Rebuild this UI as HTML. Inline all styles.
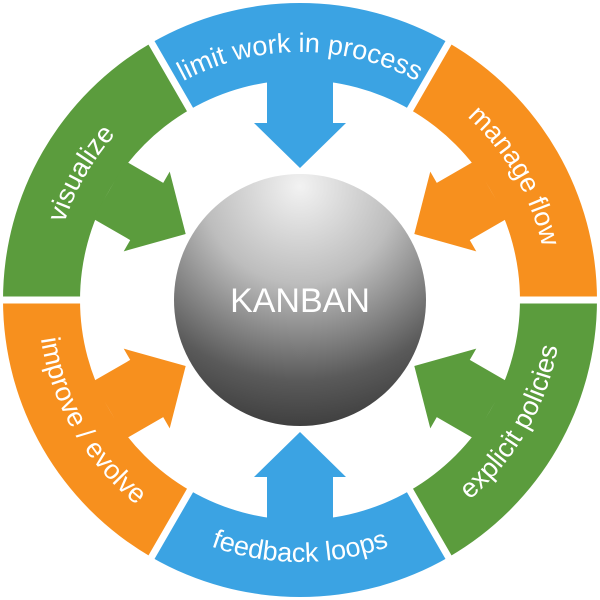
<!DOCTYPE html>
<html><head><style>
html,body{margin:0;padding:0;background:#fff;width:600px;height:600px;overflow:hidden}
text{font-family:"Liberation Sans",sans-serif;fill:#fff}
</style></head><body>
<svg width="600" height="600" viewBox="0 0 600 600" xmlns="http://www.w3.org/2000/svg">
<defs>
<g id="seg">
<path d="M151.5,42.8 A297,297 0 0 1 448.5,42.8 L410,109.5 A220,220 0 0 0 190,109.5 Z"/>
<path d="M267,80 L333,80 L333,123 L346,123 L300,168 L254,123 L267,123 Z"/>
</g>
<radialGradient id="sph" cx="50%" cy="5%" r="110%" fx="50%" fy="5%">
<stop offset="0" stop-color="#f2f2f2"/>
<stop offset="0.35" stop-color="#bdbdbd"/>
<stop offset="0.7" stop-color="#5a5a5a"/>
<stop offset="1" stop-color="#2a2a2a"/>
</radialGradient>
<path id="pLimit" d="M140.6,110 A248,248 0 0 1 459.4,110"/>
<path id="pManage" d="M384.8,66.9 A248,248 0 0 1 544.2,343.1"/>
<path id="pVis" d="M55.8,343.1 A248,248 0 0 1 215.2,67"/>
<path id="pFeed" d="M131.6,500.7 A262,262 0 0 0 468.4,500.7"/>
<path id="pExp" d="M389.6,546.2 A262,262 0 0 0 558,254.5"/>
<path id="pImp" d="M42,254.5 A262,262 0 0 0 210.4,546.2"/>
</defs>
<use href="#seg" fill="#3ba3e3"/>
<use href="#seg" fill="#f7901e" transform="rotate(60 300 300)"/>
<use href="#seg" fill="#5b9c3d" transform="rotate(120 300 300)"/>
<use href="#seg" fill="#3ba3e3" transform="rotate(180 300 300)"/>
<use href="#seg" fill="#f7901e" transform="rotate(240 300 300)"/>
<use href="#seg" fill="#5b9c3d" transform="rotate(300 300 300)"/>
<g stroke="#fff" stroke-width="7">
<line x1="300" y1="300" x2="150" y2="40.2" transform="rotate(0 300 300)"/>
<line x1="300" y1="300" x2="150" y2="40.2" transform="rotate(60 300 300)"/>
<line x1="300" y1="300" x2="150" y2="40.2" transform="rotate(120 300 300)"/>
<line x1="300" y1="300" x2="150" y2="40.2" transform="rotate(180 300 300)"/>
<line x1="300" y1="300" x2="150" y2="40.2" transform="rotate(240 300 300)"/>
<line x1="300" y1="300" x2="150" y2="40.2" transform="rotate(300 300 300)"/>
</g>
<circle cx="300" cy="300" r="126" fill="url(#sph)"/>
<text x="300" y="312" font-size="34" text-anchor="middle">KANBAN</text>
<g font-size="27">
<text><textPath href="#pLimit" startOffset="50%" text-anchor="middle">limit work in process</textPath></text>
<text><textPath href="#pManage" startOffset="50%" text-anchor="middle">manage flow</textPath></text>
<text><textPath href="#pVis" startOffset="50%" text-anchor="middle">visualize</textPath></text>
<text><textPath href="#pFeed" startOffset="50%" text-anchor="middle">feedback loops</textPath></text>
<text><textPath href="#pExp" startOffset="50%" text-anchor="middle">explicit policies</textPath></text>
<text><textPath href="#pImp" startOffset="50%" text-anchor="middle">improve / evolve</textPath></text>
</g>
</svg>
</body></html>
